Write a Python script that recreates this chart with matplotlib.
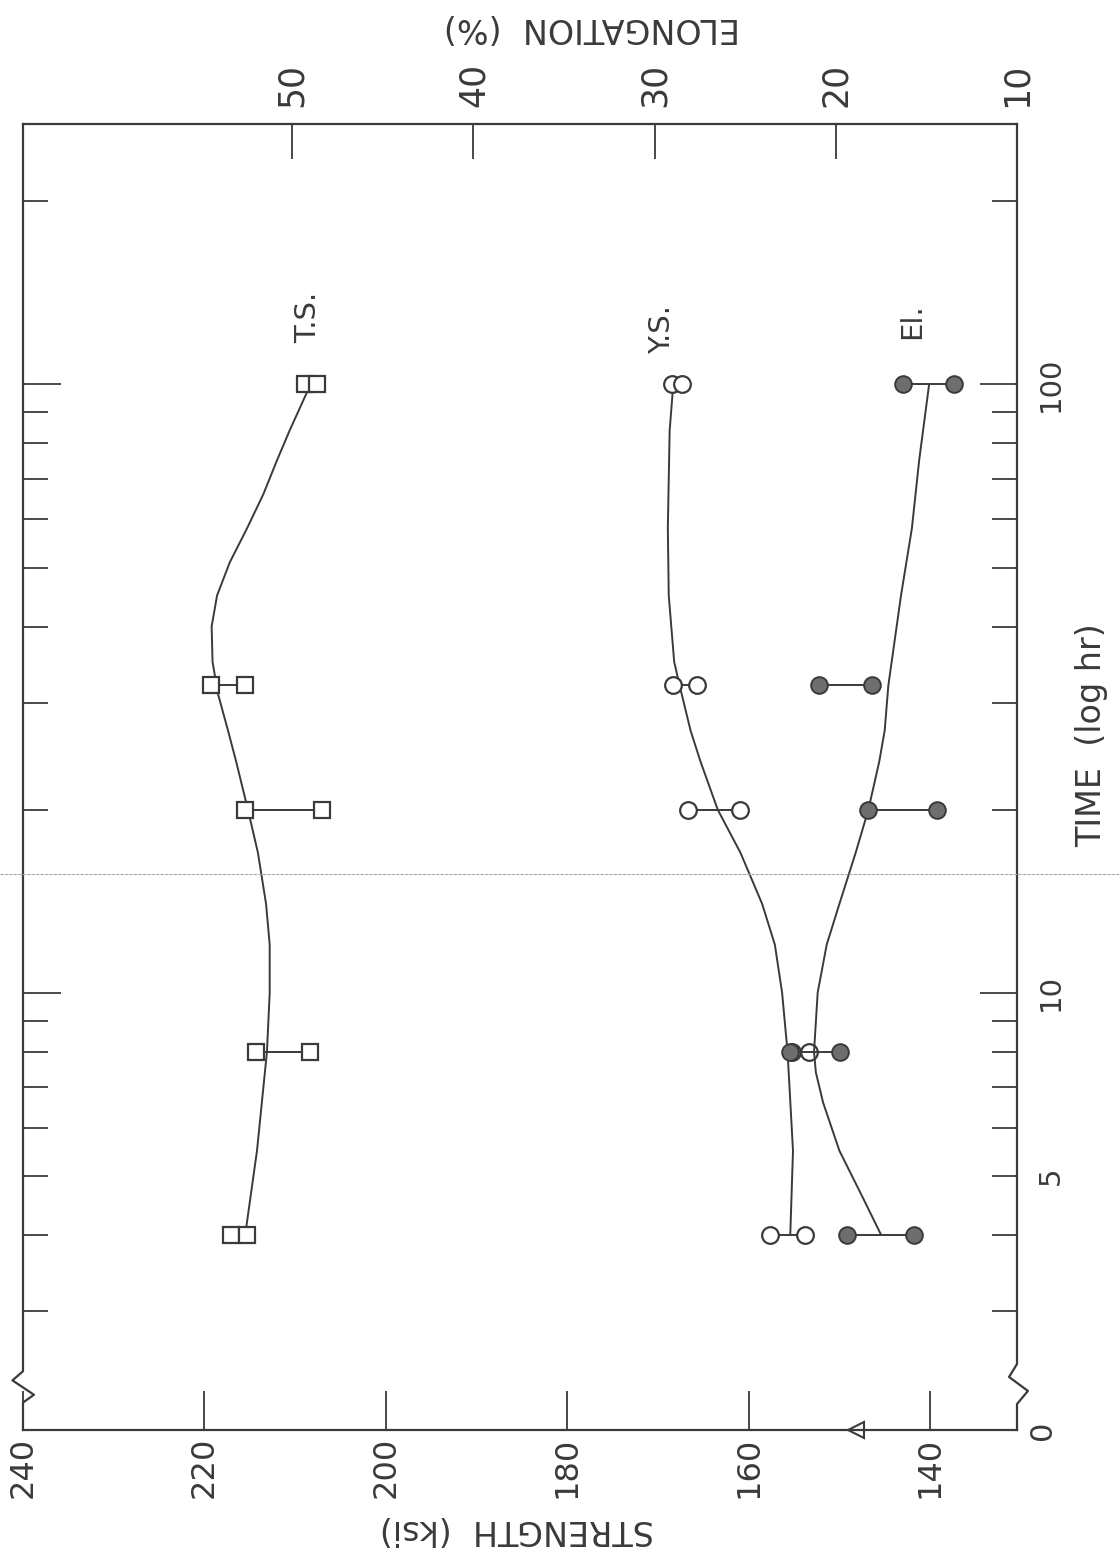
import matplotlib.pyplot as plt
import matplotlib.transforms as mtransforms
from matplotlib.lines import Line2D
from matplotlib.ticker import FixedLocator, FuncFormatter

plt.rcParams['font.family'] = ['DejaVu Sans']

INK = '#3a3a3a'

# aging time of each test pair (hr)
times = [4, 8, 20, 32, 100]

# tensile strength (ksi), two specimens per time
ts_a = [217.1, 214.3, 215.5, 219.3, 208.9]
ts_b = [215.3, 208.4, 207.0, 215.5, 207.6]

# yield strength (ksi)
ys_a = [157.6, 155.2, 166.7, 168.3, 168.4]
ys_b = [153.8, 153.3, 160.9, 165.7, 167.3]

# elongation (%)
el_a = [19.4, 22.5, 18.2, 20.9, 16.3]
el_b = [15.7, 19.75, 14.4, 18.0, 13.5]

# hand drawn trend curves
ts_curve_t = [4, 5.5, 8, 10, 12, 14, 17, 20, 24, 27, 31, 35, 40, 45, 51, 58, 66, 75,
              84, 97, 100]
ts_curve_v = [215.5, 214.2, 213.1, 212.8, 212.8, 213.2, 214.1, 215.2, 216.5, 217.4,
              218.5, 219.1, 219.2, 218.6, 217.2, 215.3, 213.5, 212.0, 210.6, 208.7, 208.5]

ys_curve_t = [4, 5.5, 8, 10, 12, 14, 17, 20, 24, 27, 32, 35, 45, 58, 84, 100]
ys_curve_v = [155.4, 155.1, 155.7, 156.3, 157.1, 158.5, 160.9, 163.4, 165.3, 166.4,
              167.6, 168.2, 168.8, 168.9, 168.7, 168.3]

el_curve_t = [4, 4.6, 5.5, 6.6, 7.4, 8, 10, 12, 14, 17, 20, 24, 27, 32, 45, 58, 75, 100]
el_curve_v = [17.5, 18.5, 19.8, 20.7, 21.1, 21.2, 21.0, 20.5, 19.8, 18.9, 18.2, 17.6,
              17.3, 17.1, 16.4, 15.8, 15.4, 14.85]

strength_ticks = [240, 220, 200, 180, 160, 140]
elong_ticks = [50, 40, 30, 20, 10]
time_minor = [3, 4, 5, 6, 7, 8, 9, 20, 30, 40, 50, 60, 70, 80, 90, 200]
triangle_strength = 148.2


def s2e(s):
    return 0.5 * s - 55.15


fig = plt.figure(figsize=(11.2, 15.56), dpi=100)
ax = fig.add_axes([23 / 1120, 126 / 1556, 994 / 1120, 1306 / 1556])
ax.set_xlim(240, 130.4)
ax.set_yscale('log')
ax.set_ylim(1.911, 268)

ax2 = ax.twiny()
ax2.set_xlim(s2e(240), s2e(130.4))

for a in (ax, ax2):
    for sp in a.spines.values():
        sp.set_visible(False)
for side in ('bottom', 'top'):
    ax.spines[side].set_visible(True)
    ax.spines[side].set_color(INK)
    ax.spines[side].set_linewidth(1.6)

# side spines with break marks near the origin
for pts in ([(0, 1), (0, 0.045), (-0.0106, 0.038), (0.011, 0.027), (0, 0.021), (0, 0)],
            [(1, 1), (1, 0.0505), (0.992, 0.0406), (1.011, 0.0299), (1, 0.0199), (1, 0)]):
    xs, ys = zip(*pts)
    ax.plot(xs, ys, color=INK, lw=1.6, transform=ax.transAxes, clip_on=False)

# strength axis (bottom)
ax.set_xticks(strength_ticks)
ax.set_xticklabels([str(v) for v in strength_ticks], rotation=90)
ax.tick_params(axis='x', which='major', direction='in', length=28, width=1.3,
               color=INK, labelcolor=INK, labelsize=23, pad=5, top=False)

# elongation axis (top)
ax2.set_xticks(elong_ticks)
ax2.set_xticklabels([str(v) for v in elong_ticks], rotation=90)
ax2.tick_params(axis='x', which='major', direction='in', length=25, width=1.3,
                color=INK, labelcolor=INK, labelsize=25, pad=12)

# time axis (log)
ax.yaxis.set_major_locator(FixedLocator([10, 100]))
ax.yaxis.set_minor_locator(FixedLocator(time_minor))
ax.yaxis.set_major_formatter(FuncFormatter(lambda v, p: f'{v:.0f}'))
ax.yaxis.set_minor_formatter(FuncFormatter(lambda v, p: '5' if v == 5 else ''))
ax.tick_params(axis='y', which='both', direction='in', left=True, right=True,
               labelleft=False, labelright=True, color=INK, labelcolor=INK,
               width=1.3, pad=14)
ax.tick_params(axis='y', which='major', length=27, labelsize=21, labelrotation=90)
ax.tick_params(axis='y', which='minor', length=18, labelsize=21, labelrotation=90)
for lab in ax.get_yticklabels(which='both'):
    lab.set_va('center')
ax.text(1.0252, 0, '0', transform=ax.transAxes, rotation=90, ha='center',
        va='center', fontsize=22, color=INK)

# tensile strength
ax.plot(ts_curve_v, ts_curve_t, color=INK, lw=1.4)
for t, a, b in zip(times, ts_a, ts_b):
    ax.plot([a, b], [t, t], color=INK, lw=1.4)
ax.plot(ts_a, times, ls='none', marker='s', ms=11, mfc='white', mec=INK, mew=1.6)
ax.plot(ts_b, times, ls='none', marker='s', ms=11, mfc='white', mec=INK, mew=1.6)

# yield strength
ax.plot(ys_curve_v, ys_curve_t, color=INK, lw=1.4)
for t, a, b in zip(times, ys_a, ys_b):
    ax.plot([a, b], [t, t], color=INK, lw=1.4)
ax.plot(ys_a, times, ls='none', marker='o', ms=12, mfc='white', mec=INK, mew=1.6)
ax.plot(ys_b, times, ls='none', marker='o', ms=12, mfc='white', mec=INK, mew=1.6)

# elongation
ax2.plot(el_curve_v, el_curve_t, color=INK, lw=1.4)
for t, a, b in zip(times, el_a, el_b):
    ax2.plot([a, b], [t, t], color=INK, lw=1.4)
ax2.plot(el_a, times, ls='none', marker='o', ms=12, mfc='#6e6e6e', mec=INK, mew=1.4)
ax2.plot(el_b, times, ls='none', marker='o', ms=12, mfc='#6e6e6e', mec=INK, mew=1.4)

# curve labels
ax.text(208.6, 129, 'T.S.', rotation=90, ha='center', va='center', fontsize=21, color=INK)
ax.text(169.5, 123, 'Y.S.', rotation=90, ha='center', va='center', fontsize=21, color=INK)
ax2.text(15.8, 127, 'El.', rotation=90, ha='center', va='center', fontsize=21, color=INK)

# marker on the strength axis
tri = mtransforms.blended_transform_factory(ax.transData, ax.transAxes)
ax.plot([triangle_strength], [0], marker='<', ms=12, mfc='white', mec=INK, mew=1.5,
        transform=tri, clip_on=False)

# axis titles
fig.text(517 / 1120, 1 - 1530 / 1556, 'STRENGTH  (ksi)', rotation=180, ha='center',
         va='center', fontsize=24, color=INK)
fig.text(592 / 1120, 1 - 28 / 1556, 'ELONGATION  (%)', rotation=180, ha='center',
         va='center', fontsize=24, color=INK)
fig.text(1092 / 1120, 1 - 735 / 1556, 'TIME  (log hr)', rotation=90, ha='center',
         va='center', fontsize=24, color=INK)

# faint scan fold line
fig.add_artist(Line2D([0, 1], [1 - 874 / 1556] * 2, transform=fig.transFigure,
                      color='#aaaaaa', lw=0.8, ls=(0, (3, 1))))

fig.savefig('out.png', dpi=100)
